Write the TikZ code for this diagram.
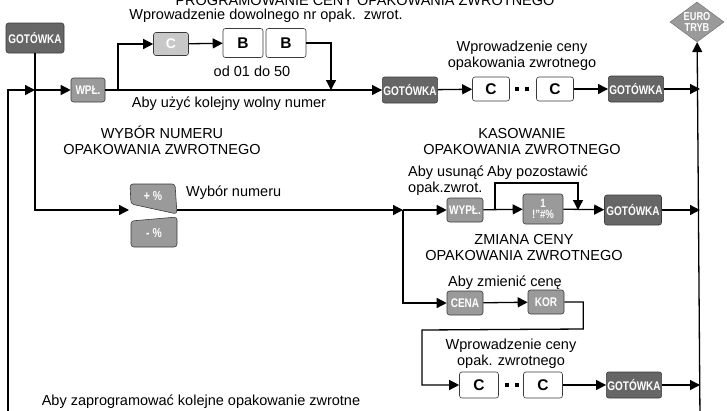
\documentclass[tikz,border=0pt]{standalone}
\usepackage{fontspec}
\setmainfont{Liberation Sans}
\newfontfamily\keyfont[FakeStretch=0.8]{Liberation Sans}
\usetikzlibrary{positioning,arrows.meta,shapes.geometric}
\definecolor{keydark}{HTML}{666666}
\definecolor{keymid}{HTML}{9A9A9A}
\definecolor{keylight}{HTML}{C8C8C8}
\definecolor{keyline}{HTML}{3A3A3A}

\tikzset{
  key/.style={rounded corners=2.5pt, draw=keyline, line width=0.6pt, inner sep=1pt, text=white, font=\keyfont\bfseries\fontsize{12.5}{13}\selectfont},
  darkkey/.style={key, fill=keydark, minimum width=55pt, minimum height=26pt},
  midkey/.style={key, fill=keymid, minimum width=36pt, minimum height=24pt},
  lightkey/.style={key, fill=keylight, minimum width=35pt, minimum height=23pt, font=\bfseries\fontsize{14}{14}\selectfont},
  digit/.style={rounded corners=2.5pt, draw=keyline, line width=0.6pt, fill=white, minimum width=38pt, minimum height=26pt, font=\bfseries\fontsize{15.5}{16}\selectfont},
  flow/.style={line width=1.3pt, -{Triangle[length=10pt,width=10pt]}},
  lbl/.style={font=\fontsize{14.5}{16}\selectfont, align=center, inner sep=0pt}
}

\begin{document}
\begin{tikzpicture}[x=1pt,y=-1pt]
\clip (0,0) rectangle (727,410);

% keys, first row
\node[darkkey, minimum width=58pt, minimum height=30pt] (got0) at (35,38) {GOTÓWKA};
\node[midkey, minimum width=34pt] (wpl) at (88,90) {WPŁ.};
\node[lightkey] (ctop) at (171,44) {C};
\node[digit, minimum width=40pt, minimum height=29pt] (b1) at (243,43) {B};
\node[digit, minimum width=40pt, minimum height=29pt] (b2) at (286,43) {B};
\node[darkkey] (got1) at (410,90) {GOTÓWKA};
\node[digit, minimum width=37pt, minimum height=24pt] (c1) at (491,89) {C};
\node[digit, minimum width=37pt, minimum height=24pt] (c2) at (555,89) {C};
\node[darkkey] (got2) at (636,89) {GOTÓWKA};
\node[diamond, fill=keymid, draw=keyline!70, line width=0.5pt, inner sep=0pt, minimum width=54pt, minimum height=40pt, shape aspect=1.35, text=white, align=center, font=\keyfont\bfseries\fontsize{11.5}{10.5}\selectfont] (euro) at (697,22) {EURO\\TRYB};

% keys, second row
\draw[rounded corners=3pt, fill=keymid, draw=keyline, line width=0.6pt] (130,184) -- (175,184) -- (177,214) -- (131,204) -- cycle;
\draw[rounded corners=3pt, fill=keymid, draw=keyline, line width=0.6pt] (131,221) -- (177,217) -- (177,247) -- (131,247) -- cycle;
\node[text=white, font=\keyfont\bfseries\fontsize{13}{13}\selectfont] (plus) at (153,196) {+ \%};
\node[text=white, font=\keyfont\bfseries\fontsize{13}{13}\selectfont] (minus) at (154,233) {- \%};
\node[midkey] (wypl) at (465,210) {WYPŁ.};
\node[midkey, minimum width=40pt, minimum height=30pt, align=center, font=\keyfont\bfseries\fontsize{12}{11.5}\selectfont] (one) at (543,209) {1\\!”\#\%};
\node[darkkey, minimum width=57pt, minimum height=30pt] (got3) at (633,210) {GOTÓWKA};

% keys, third and fourth row
\node[midkey] (cena) at (465,303) {CENA};
\node[midkey] (kor) at (546,302) {KOR};
\node[digit, minimum width=39pt] (c3) at (479,385) {C};
\node[digit, minimum width=39pt] (c4) at (543,385) {C};
\node[darkkey] (got4) at (634,385) {GOTÓWKA};

% dots between price digits
\foreach \x/\y in {517/89,527/89,507/385,517/385}
  \fill (\x-2,\y-2) rectangle (\x+2,\y+2);

% junction points
\coordinate (rbot) at (700,420);
\coordinate (lbot) at (8,420);
\coordinate (entry) at (got0.south |- wpl);
\coordinate (br1) at (118,90);
\coordinate (drop1) at (331,90);
\coordinate (pm) at (129,210);
\coordinate (pmout) at (177,210);
\coordinate (j) at (403,210);
\coordinate (br2) at (495,210);
\coordinate (drop2) at (578,210);
\coordinate (turn) at (422,330);

% connectors
\draw[flow] (rbot) -- (lbot) |- (entry);
\draw[flow] (got0.south) |- (pm);
\draw[flow] (entry) -- (wpl);
\draw[flow] (wpl) -- (got1);
\draw[flow] (br1) |- (ctop);
\draw[flow] (ctop) -- (b1);
\draw[flow] (b2) -| (drop1);
\draw[flow] (got1) -- (c1);
\draw[flow] (c2) -- (got2);
\draw[flow] (got2) -- (got2 -| rbot);
\draw[flow] (rbot) -- (euro);
\draw[flow] (pmout) -- (j);
\draw[flow] (j) -- (wypl);
\draw[flow] (wypl) -- (one);
\draw[flow] (br2) -- ++(0,-27) -| (drop2);
\draw[flow] (one) -- (got3);
\draw[flow] (got3) -- (got3 -| rbot);
\draw[flow] (j) |- (cena);
\draw[flow] (cena) -- (kor);
\draw[flow] (kor.east) -| ++(19,27) -- (turn) |- (c3);
\draw[flow] (c4) -- (got4);
\draw[flow] (got4) -- (got4 -| rbot);

% labels
\node[lbl, anchor=base] (title) at (365,5) {PROGRAMOWANIE CENY OPAKOWANIA ZWROTNEGO};
\node[lbl] (lbldow) at (266,16) {Wprowadzenie dowolnego nr opak.\ \ zwrot.};
\node[lbl] (lblrange) at (252,71) {od 01 do 50};
\node[lbl] (lblnext) at (229,104) {Aby użyć kolejny wolny numer};
\node[lbl] (lblprice) at (522,56) {Wprowadzenie ceny\\opakowania zwrotnego};
\node[lbl] (lblsel) at (162,140) {WYBÓR NUMERU\\OPAKOWANIA ZWROTNEGO};
\node[lbl] (lbldel) at (522,142) {KASOWANIE\\OPAKOWANIA ZWROTNEGO};
\node[lbl, anchor=west] (lblnum) at (186,193) {Wybór numeru};
\node[lbl, anchor=west, align=left] (lblrem) at (408,181) {Aby usunąć\\opak.zwrot.};
\node[lbl, anchor=west] (lblkeep) at (487,173) {Aby pozostawić};
\node[lbl] (lblchg) at (524,248) {ZMIANA CENY\\OPAKOWANIA ZWROTNEGO};
\node[lbl] (lblnew) at (505,283) {Aby zmienić cenę};
\node[lbl] (lblprice2) at (511,354) {Wprowadzenie ceny\\opak. zwrotnego};
\node[lbl] (lblloop) at (201,402) {Aby zaprogramować kolejne opakowanie zwrotne};
\end{tikzpicture}
\end{document}
